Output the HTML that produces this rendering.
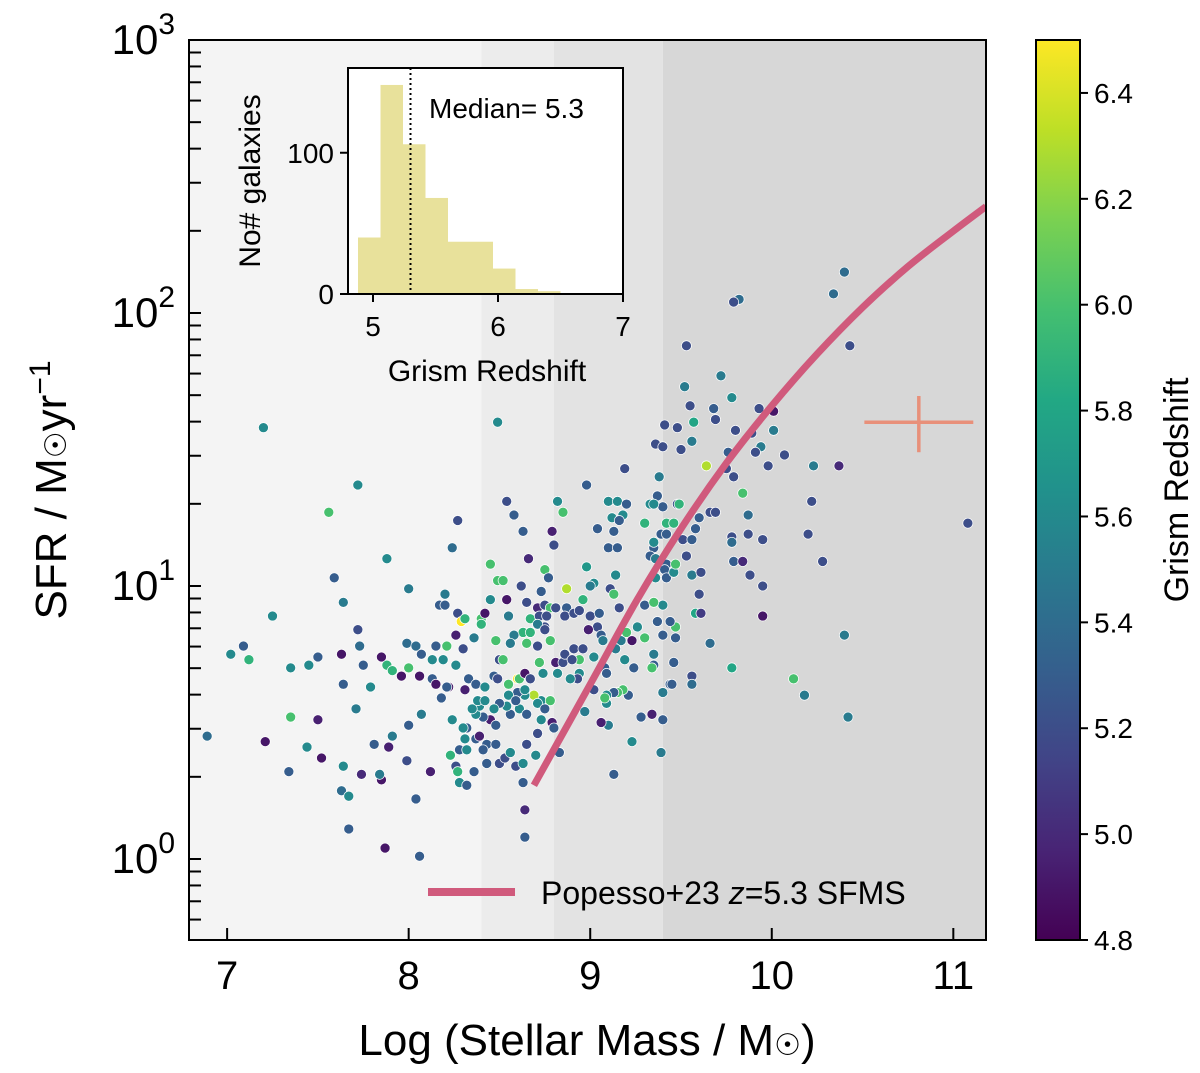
<!DOCTYPE html>
<html><head><meta charset="utf-8"><style>
html,body{margin:0;padding:0;background:#fff;}
svg{display:block;font-family:"Liberation Sans",sans-serif;}
</style></head><body>
<svg id="chart" width="1200" height="1073" viewBox="0 0 1200 1073" xmlns="http://www.w3.org/2000/svg">
<defs>
<linearGradient id="virgrad" x1="0" y1="1" x2="0" y2="0">
<stop offset="0" stop-color="#440154"/><stop offset="0.1" stop-color="#482475"/><stop offset="0.2" stop-color="#414487"/><stop offset="0.3" stop-color="#355f8d"/><stop offset="0.4" stop-color="#2a788e"/><stop offset="0.5" stop-color="#21918c"/><stop offset="0.6" stop-color="#22a884"/><stop offset="0.7" stop-color="#44bf70"/><stop offset="0.8" stop-color="#7ad151"/><stop offset="0.9" stop-color="#bddf26"/><stop offset="1" stop-color="#fde725"/>
</linearGradient>
<clipPath id="clipMain"><rect x="189" y="40" width="797" height="900"/></clipPath>
</defs>
<g id="bands"></g>
<g id="points" clip-path="url(#clipMain)"></g>
<g id="curve" clip-path="url(#clipMain)"></g>
<g id="errbar"></g>
<rect x="189" y="40" width="797" height="900" fill="none" stroke="#000" stroke-width="2"/>
<g id="axes"></g>
<g id="inset"></g>
<g id="cbar"></g>
<g>
<line x1="428" y1="892" x2="515" y2="892" stroke="#d05a7c" stroke-width="8"/>
<text x="541" y="904" font-size="32">Popesso+23 <tspan font-style="italic">z</tspan>=5.3 SFMS</text>
</g>
<text x="587" y="1055" font-size="44" text-anchor="middle">Log (Stellar Mass / M<tspan font-family="DejaVu Sans" font-size="30">☉</tspan>)</text>
<text transform="translate(66,490) rotate(-90)" font-size="44" text-anchor="middle">SFR / M<tspan font-family="DejaVu Sans" font-size="30">☉</tspan>yr<tspan dy="-16" font-size="30">−1</tspan></text>
</svg>
<script>
// ===== data =====
const mass = [8.54,8.82,8.98,8.85,8.58,8.27,8.63,8.79,8.80,8.24,7.88,8.66,8.45,8.75,8.98,8.77,8.49,8.52,8.62,8.73,8.87,8.00,8.20,8.17,8.20,8.27,8.29,8.31,8.40,8.42,8.40,8.45,8.54,8.55,8.65,8.71,8.75,8.78,8.81,8.67,8.72,8.76,8.87,8.86,8.91,8.94,8.96,9.02,9.00,9.11,9.13,9.16,9.14,9.00,9.05,9.04,8.75,8.71,8.63,8.67,8.58,8.56,8.65,8.71,8.78,8.75,8.48,8.36,8.26,8.15,8.21,8.30,7.99,8.04,8.07,8.13,8.19,8.26,7.88,7.91,8.00,7.85,7.96,8.06,8.13,8.15,8.22,8.21,8.31,8.18,8.33,8.37,8.42,8.47,8.49,8.50,8.52,8.55,8.60,8.61,8.64,8.67,8.74,8.72,8.81,8.85,8.86,8.91,8.96,8.94,8.90,8.82,8.94,8.93,8.89,9.02,9.02,8.99,9.06,9.07,9.17,9.20,9.23,9.30,9.26,9.14,9.19,9.24,9.08,9.09,9.35,9.35,9.34,9.46,9.44,9.40,9.21,9.18,9.15,9.13,9.09,9.09,9.08,8.97,8.73,8.78,8.69,8.71,8.75,8.73,8.64,8.61,8.56,8.65,8.60,8.55,8.64,8.54,8.59,8.50,8.47,8.45,8.48,8.41,8.37,8.39,8.35,8.38,8.42,8.32,8.30,8.31,8.37,8.39,8.43,8.48,8.41,8.28,8.32,8.23,8.43,8.50,8.53,8.56,8.59,8.63,8.65,8.70,8.71,8.79,8.80,8.83,8.63,8.36,8.26,8.27,8.28,8.32,8.12,8.04,7.85,7.99,7.89,7.91,8.00,8.07,8.24,9.10,9.06,9.13,9.23,9.28,9.34,9.40,9.39,9.45,9.47,9.47,9.40,9.37,9.44,9.40,9.30,9.35,9.04,9.13,9.10,9.15,9.12,9.18,9.16,9.10,9.15,9.20,9.30,9.33,9.37,9.40,9.42,9.46,9.39,9.42,9.35,9.33,9.36,9.42,9.41,9.42,9.46,9.47,9.36,9.35,9.48,
10.40,10.34,9.82,9.79,9.53,10.43,9.72,9.52,9.78,9.55,9.68,9.69,9.93,10.01,9.41,9.48,9.57,9.56,9.80,9.89,10.01,9.36,9.40,9.50,9.94,9.91,10.07,9.19,9.64,9.75,9.98,10.23,10.37,9.79,9.84,9.38,9.35,9.49,10.22,9.76,
11.08,9.66,9.69,9.87,9.78,9.78,9.87,9.95,10.20,9.51,9.56,9.58,9.60,9.53,9.79,9.84,10.28,9.56,9.61,9.88,9.95,9.60,9.58,9.61,9.95,10.40,9.66,9.78,9.56,9.56,10.12,10.18,10.42,
6.89,7.20,7.02,7.12,7.09,7.25,7.21,7.35,7.35,7.45,7.44,7.34,7.52,7.50,7.50,7.56,7.59,7.72,7.64,7.64,7.71,7.63,7.64,7.63,7.67,7.67,7.74,7.87,7.79,7.84,7.81,7.73,7.75,7.72,8.06,8.49,8.64,8.64];
const logSFR = [1.31,1.31,1.37,1.27,1.26,1.24,1.20,1.20,1.15,1.14,1.10,1.10,1.08,1.06,1.07,1.03,1.02,1.02,1.00,0.98,0.99,0.99,0.97,0.93,0.93,0.90,0.87,0.88,0.88,0.90,0.86,0.95,0.95,0.89,0.94,0.92,0.93,0.92,0.92,0.88,0.89,0.89,0.92,0.89,0.90,0.91,0.95,1.01,1.00,0.99,0.97,0.92,1.04,0.89,0.90,0.85,0.85,0.86,0.83,0.83,0.82,0.79,0.79,0.78,0.80,0.84,0.80,0.81,0.82,0.78,0.78,0.77,0.79,0.78,0.75,0.73,0.73,0.71,0.71,0.69,0.70,0.74,0.67,0.67,0.66,0.64,0.63,0.63,0.62,0.59,0.66,0.64,0.63,0.67,0.66,0.73,0.73,0.64,0.66,0.66,0.68,0.66,0.68,0.72,0.72,0.72,0.75,0.77,0.77,0.73,0.73,0.68,0.68,0.66,0.66,0.74,0.62,0.84,0.82,0.80,0.80,0.83,0.80,0.81,0.85,0.77,0.73,0.70,0.70,0.68,0.75,0.71,0.70,0.72,0.64,0.61,0.60,0.62,0.61,0.61,0.60,0.57,0.59,0.54,0.58,0.58,0.60,0.57,0.55,0.51,0.60,0.55,0.53,0.53,0.61,0.60,0.62,0.56,0.58,0.57,0.55,0.51,0.49,0.52,0.53,0.56,0.55,0.58,0.58,0.48,0.48,0.44,0.44,0.45,0.42,0.42,0.40,0.40,0.40,0.38,0.35,0.35,0.37,0.39,0.34,0.35,0.42,0.38,0.46,0.50,0.48,0.39,0.28,0.32,0.34,0.32,0.28,0.27,0.32,0.22,0.29,0.36,0.41,0.45,0.49,0.53,0.51,0.49,0.50,0.31,0.43,0.52,0.53,0.51,0.39,0.64,0.85,0.81,0.82,0.87,0.87,0.93,0.93,0.94,1.21,1.20,1.14,1.14,1.25,1.26,1.24,1.31,1.31,1.30,1.23,1.30,1.33,1.29,1.23,1.23,1.19,1.19,1.14,1.11,1.10,1.08,1.06,1.03,1.05,1.08,1.03,1.16,1.30,
2.15,2.07,2.05,2.04,1.88,1.88,1.77,1.73,1.69,1.66,1.65,1.61,1.65,1.64,1.59,1.58,1.60,1.53,1.57,1.56,1.57,1.52,1.51,1.50,1.51,1.49,1.48,1.43,1.44,1.43,1.44,1.44,1.44,1.40,1.34,1.40,1.30,1.30,1.31,1.49,
1.23,1.27,1.27,1.26,1.18,1.16,1.19,1.17,1.19,1.17,1.17,1.21,1.25,1.11,1.09,1.09,1.09,1.04,1.05,1.04,1.00,0.97,0.90,0.90,0.89,0.82,0.79,0.70,0.67,0.64,0.66,0.60,0.52,
0.45,1.58,0.75,0.73,0.78,0.89,0.43,0.52,0.70,0.71,0.41,0.32,0.37,0.51,0.74,1.27,1.03,1.37,0.94,0.64,0.55,0.75,0.34,0.25,0.23,0.11,0.31,0.04,0.63,0.31,0.42,0.78,0.71,0.84,0.01,1.60,0.18,0.08];
const redshift = [5.2,5.6,5.3,6.0,5.3,5.2,5.3,4.95,5.2,5.4,5.6,5.0,6.0,6.0,5.7,5.3,6.0,6.0,5.2,5.3,6.3,5.5,5.5,5.3,5.3,5.2,6.5,5.9,6.0,4.9,5.9,5.6,4.9,5.5,5.2,5.0,5.2,6.0,5.2,5.9,5.2,5.2,5.3,5.2,5.2,5.2,5.9,5.6,5.5,5.2,6.0,5.2,5.6,5.2,5.3,5.2,5.2,5.5,5.9,5.9,5.5,5.5,6.0,5.2,6.0,5.2,6.0,5.5,4.95,5.3,6.0,5.2,5.4,5.4,5.3,5.6,5.6,5.6,5.9,5.9,6.0,4.9,4.9,4.9,5.3,4.9,4.9,5.3,4.95,5.3,5.3,5.3,5.6,5.3,5.2,5.2,6.0,6.0,6.5,6.0,4.9,5.2,5.6,6.0,4.95,5.2,5.2,5.2,5.2,6.0,5.2,5.6,5.6,5.2,5.6,5.6,5.2,4.95,5.3,5.5,5.5,6.0,4.9,6.0,5.6,5.5,5.6,5.3,5.3,5.3,5.5,5.3,6.0,5.3,5.3,5.5,5.3,6.0,6.0,5.3,5.6,5.6,6.0,5.5,5.6,6.0,6.3,5.6,5.3,5.6,5.6,5.6,5.3,5.3,5.3,5.6,5.6,5.6,5.3,5.3,5.6,4.95,5.3,5.3,5.6,5.6,5.6,5.6,5.6,5.3,5.6,5.6,5.3,4.95,5.3,5.3,5.3,5.3,5.6,5.9,5.3,5.2,5.2,5.6,5.2,5.6,5.2,5.6,5.2,4.95,5.3,5.3,5.3,5.3,5.2,5.9,5.6,5.3,4.95,5.3,4.9,5.2,4.95,5.5,5.3,5.5,5.6,5.5,4.95,5.3,5.6,5.3,4.95,5.3,5.5,5.3,6.0,5.3,5.3,5.3,5.3,5.6,5.3,6.0,5.3,5.3,5.3,5.3,5.6,5.6,5.3,5.6,5.6,5.3,5.9,5.6,5.3,5.3,5.9,5.9,5.3,5.3,5.3,5.3,5.5,5.3,5.3,5.3,5.6,6.0,5.6,5.6,
5.2,5.4,5.4,5.4,5.2,5.2,5.2,5.5,5.5,5.6,5.2,5.3,5.2,5.2,4.9,5.2,5.2,5.8,5.5,5.2,5.2,5.5,5.2,5.2,5.2,5.5,5.2,5.2,5.2,6.3,5.2,5.2,5.5,5.0,5.2,6.0,5.5,5.6,5.9,5.2,
5.3,5.2,5.2,5.2,5.4,5.2,5.4,5.2,5.2,5.2,5.2,5.3,5.3,5.3,5.2,5.3,5.0,5.2,5.5,5.2,5.2,5.2,5.2,5.8,5.1,4.9,5.5,5.4,5.8,5.2,5.4,6.0,5.5,
5.5,5.4,5.6,5.6,5.9,5.3,5.6,4.9,6.0,5.6,5.6,5.6,5.3,4.9,4.95,5.3,6.0,5.3,5.6,5.5,5.3,5.5,4.9,5.6,5.4,5.6,5.3,5.0,4.9,5.6,5.5,5.3,5.4,5.3,5.2,5.3,5.6,5.0];
const curveMass = [8.69,9.0,9.25,9.5,9.75,10.0,10.25,10.5,10.75,11.0,11.18];
const curveLogSFR = [0.27,0.64,0.94,1.21,1.45,1.66,1.85,2.02,2.17,2.30,2.39];
const histEdgeStart = 4.88, histWidth = 0.18;
const histCounts = [40,148,106,68,37,37,18,3.5,2];
const medianZ = 5.3;
const xTicks = [7,8,9,10,11];
const yTickExp = [0,1,2,3];
const cbTicks = [4.8,5.0,5.2,5.4,5.6,5.8,6.0,6.2,6.4];
const insetXTicks = [5,6,7];
const insetYTicks = [0,100];
const bandEdges = [8.4,8.8,9.4];
const bandColors = ["#f4f4f4","#ececec","#e3e3e3","#d7d7d7"];

// ===== scales =====
const X0=189,X1=986,Y0=40,Y1=940, XMIN=6.79, XMAX=11.18, YMIN=Math.log10(0.505), YMAX=3;
const sx = m => X0 + (m-XMIN)/(XMAX-XMIN)*(X1-X0);
const sy = l => Y1 - (l-YMIN)/(YMAX-YMIN)*(Y1-Y0);
const ZMIN=4.8, ZMAX=6.5, CB_T=40, CB_B=940;
const cz = z => CB_B - (z-ZMIN)/(ZMAX-ZMIN)*(CB_B-CB_T);
const IX0=348, IX1=623, IY0=68, IY1=294;
const ix = z => IX0 + (z-4.8)/(7-4.8)*(IX1-IX0);
const iy = c => IY1 - c/160*(IY1-IY0);
const NS="http://www.w3.org/2000/svg";
function mk(tag, attrs, parent){const e=document.createElementNS(NS,tag);for(const k in attrs)e.setAttribute(k,attrs[k]);parent.appendChild(e);return e;}
const virStops=[[68,1,84],[72,36,117],[65,68,135],[53,95,141],[42,120,142],[33,145,140],[34,168,132],[68,191,112],[122,209,81],[189,223,38],[253,231,37]];
function viridis(z){
  if(typeof z!=='number'||isNaN(z)) z=5.3;
  let t=Math.max(0,Math.min(1,(z-ZMIN)/(ZMAX-ZMIN)))*10;
  const i=Math.min(9,Math.floor(t)),f=t-i;const a=virStops[i],b=virStops[i+1];
  return 'rgb('+a.map((v,k)=>Math.round(v+(b[k]-v)*f)).join(',')+')';
}

// bands
const bands=document.getElementById('bands');
const edges=[XMIN,...bandEdges,XMAX];
for(let i=0;i<edges.length-1;i++){
  const r=mk('rect',{x:sx(edges[i]),y:Y0,width:sx(edges[i+1])-sx(edges[i]),height:Y1-Y0,fill:bandColors[i]},bands);
  
  
}
// points
const pts=document.getElementById('points');
const nPts=Math.min(mass.length,logSFR.length);
for(let i=0;i<nPts;i++){
  const c=mk('circle',{cx:sx(mass[i]),cy:sy(logSFR[i]),r:5,fill:viridis(redshift[i]),stroke:'#fff','stroke-width':0.7},pts);
  
  
}
// curve (Catmull-Rom smoothed)
const cg=document.getElementById('curve');
const cpx=curveMass.map(sx), cpy=curveLogSFR.map(sy);
let pathD='M'+cpx[0].toFixed(1)+','+cpy[0].toFixed(1);
for(let i=0;i<cpx.length-1;i++){
  const p0=Math.max(0,i-1), p3=Math.min(cpx.length-1,i+2);
  const c1x=cpx[i]+(cpx[i+1]-cpx[p0])/6, c1y=cpy[i]+(cpy[i+1]-cpy[p0])/6;
  const c2x=cpx[i+1]-(cpx[p3]-cpx[i])/6, c2y=cpy[i+1]-(cpy[p3]-cpy[i])/6;
  pathD+=' C'+c1x.toFixed(1)+','+c1y.toFixed(1)+' '+c2x.toFixed(1)+','+c2y.toFixed(1)+' '+cpx[i+1].toFixed(1)+','+cpy[i+1].toFixed(1);
}
const cp=mk('path',{d:pathD,fill:'none',stroke:'#d05a7c','stroke-width':7},cg);


// error bar
const eg=document.getElementById('errbar');
const ecx=10.81, ecy=1.60;
const eh=mk('line',{x1:sx(ecx-0.30),x2:sx(ecx+0.30),y1:sy(ecy),y2:sy(ecy),stroke:'#e8907a','stroke-width':3.5},eg);


const ev=mk('line',{x1:sx(ecx),x2:sx(ecx),y1:sy(1.696),y2:sy(1.49),stroke:'#e8907a','stroke-width':3.5},eg);


// axes ticks
const ax=document.getElementById('axes');
xTicks.forEach(t=>{
  const l=mk('line',{x1:sx(t),x2:sx(t),y1:Y1,y2:Y1-12,stroke:'#000','stroke-width':2},ax);
  
  
  const tx=mk('text',{x:sx(t),y:Y1+49,'font-size':40,'text-anchor':'middle'},ax);tx.textContent=t;
  
  
});
for(let e=-1;e<=2;e++){for(let k=1;k<=9;k++){
  const l10=e+Math.log10(k); if(l10<YMIN||l10>YMAX)continue;
  const y=sy(l10);
  const tk=mk('line',{x1:X0,x2:X0+12,y1:y,y2:y,stroke:'#000','stroke-width':2},ax);
  
  
}}
yTickExp.forEach(e=>{
  const t=mk('text',{x:175,y:sy(e)+14,'font-size':42,'text-anchor':'end'},ax);
  t.appendChild(document.createTextNode('10'));
  const sup=mk('tspan',{dy:-20,'font-size':30},t);sup.textContent=String(e);
  
  
});
// inset
const ins=document.getElementById('inset');
const bg=mk('rect',{x:IX0,y:IY0,width:IX1-IX0,height:IY1-IY0,fill:'#fff'},ins);


histCounts.forEach((c,i)=>{
  const a=histEdgeStart+i*histWidth;
  const r=mk('rect',{x:ix(a),y:iy(c),width:ix(a+histWidth)-ix(a),height:iy(0)-iy(c),fill:'#e8e19b'},ins);
  
  
});
const ml=mk('line',{x1:ix(medianZ),x2:ix(medianZ),y1:IY0,y2:IY1,stroke:'#000','stroke-width':2,'stroke-dasharray':'2,3'},ins);


const fr=mk('rect',{x:IX0,y:IY0,width:IX1-IX0,height:IY1-IY0,fill:'none',stroke:'#000','stroke-width':2},ins);


insetXTicks.forEach(t=>{
  const l=mk('line',{x1:ix(t),x2:ix(t),y1:IY1,y2:IY1+8,stroke:'#000','stroke-width':2},ins);
  
  
  const tx=mk('text',{x:ix(t),y:IY1+42,'font-size':28,'text-anchor':'middle'},ins);tx.textContent=t;
  
  
});
insetYTicks.forEach(t=>{
  const l=mk('line',{x1:IX0-8,x2:IX0,y1:iy(t),y2:iy(t),stroke:'#000','stroke-width':2},ins);
  
  
  const tx=mk('text',{x:IX0-14,y:iy(t)+10,'font-size':28,'text-anchor':'end'},ins);tx.textContent=t;
  
  
});
const mt=mk('text',{x:429,y:118,'font-size':28},ins);mt.textContent='Median= 5.3';


const ixl=mk('text',{x:487,y:381,'font-size':30,'text-anchor':'middle'},ins);ixl.textContent='Grism Redshift';


const iyl=mk('text',{transform:'translate(260,181) rotate(-90)','font-size':30,'text-anchor':'middle'},ins);iyl.textContent='No# galaxies';


// colorbar
const cbg=document.getElementById('cbar');
const cr=mk('rect',{x:1036,y:CB_T,width:44,height:CB_B-CB_T,fill:'url(#virgrad)',stroke:'#000','stroke-width':2},cbg);


cbTicks.forEach(t=>{
  const l=mk('line',{x1:1080,x2:1088,y1:cz(t),y2:cz(t),stroke:'#000','stroke-width':2},cbg);
  
  
  const tx=mk('text',{x:1094,y:cz(t)+10,'font-size':28},cbg);tx.textContent=t.toFixed(1);
  
  
});
const cl=mk('text',{transform:'translate(1188,490) rotate(-90)','font-size':34,'text-anchor':'middle'},cbg);cl.textContent='Grism Redshift';


</script>
</body></html>
